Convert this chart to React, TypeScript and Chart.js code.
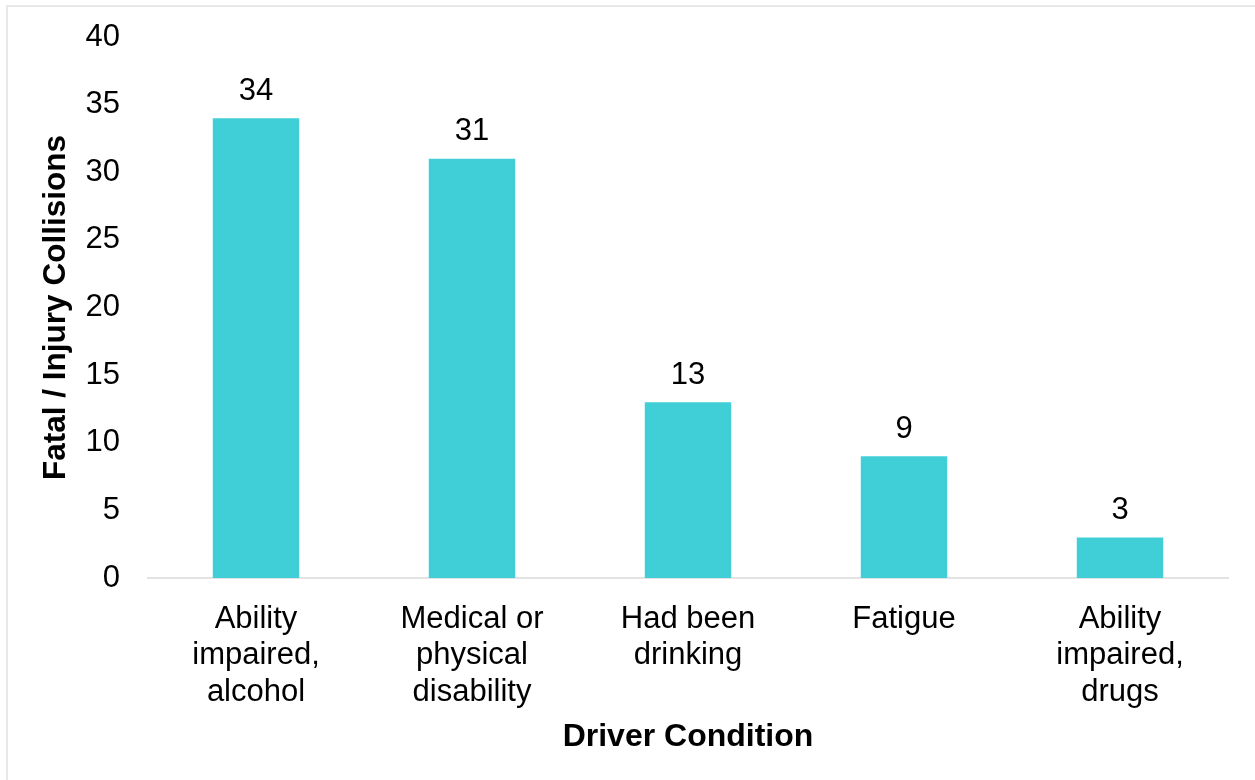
import React, { useEffect, useRef } from "react";
import { Chart, registerables } from "chart.js";

Chart.register(...registerables);

const categories: string[][] = [
  ["Ability", "impaired,", "alcohol"],
  ["Medical or", "physical", "disability"],
  ["Had been", "drinking"],
  ["Fatigue"],
  ["Ability", "impaired,", "drugs"],
];
const values: number[] = [34, 31, 13, 9, 3];
const yTicks = { min: 0, max: 40, step: 5 };
const xTitle = "Driver Condition";
const yTitle = "Fatal / Injury Collisions";

const FONT = "'Liberation Sans', Arial, sans-serif";

const dataLabels = {
  id: "dataLabels",
  afterDatasetsDraw(chart: any) {
    const ctx = chart.ctx;
    const meta = chart.getDatasetMeta(0);
    ctx.save();
    ctx.font = `31px ${FONT}`;
    ctx.fillStyle = "#000";
    ctx.textAlign = "center";
    ctx.textBaseline = "alphabetic";
    meta.data.forEach((bar: any, i: number) => {
      ctx.fillText(String(values[i]), bar.x, bar.y - 18.5);
    });
    ctx.restore();
  },
};

export default function App() {
  const ref = useRef<HTMLCanvasElement | null>(null);
  useEffect(() => {
    if (!ref.current) return;
    const chart = new Chart(ref.current, {
      type: "bar",
      data: {
        labels: categories,
        datasets: [
          {
            data: values,
            backgroundColor: "#40CFD6",
            borderWidth: 0,
            barPercentage: 0.4,
            categoryPercentage: 1.0,
          },
        ],
      },
      options: {
        animation: false,
        responsive: false,
        maintainAspectRatio: false,
        layout: { padding: { left: 0, top: 37, right: 27, bottom: 0 } },
        plugins: {
          legend: { display: false },
          tooltip: { enabled: false },
        },
        scales: {
          x: {
            grid: { display: false, drawTicks: false },
            border: { display: true, color: "#e3e3e3", width: 2 },
            ticks: {
              color: "#000",
              font: { family: FONT, size: 31, lineHeight: 1.18 },
              padding: 23,
              maxRotation: 0,
              autoSkip: false,
            },
            title: {
              display: true,
              text: xTitle,
              color: "#000",
              font: { family: FONT, size: 32, weight: "bold", lineHeight: 1.2 },
              padding: { top: 0, bottom: 24 },
            },
            afterFit(scale: any) {
              scale.height = 202;
              scale.paddingLeft = 0;
              scale.paddingRight = 0;
            },
          },
          y: {
            min: yTicks.min,
            max: yTicks.max,
            grid: { display: false, drawTicks: false },
            border: { display: false },
            ticks: {
              stepSize: yTicks.step,
              color: "#000",
              font: { family: FONT, size: 31 },
              padding: 28,
            },
            title: {
              display: true,
              text: yTitle,
              color: "#000",
              font: { family: FONT, size: 31.5, weight: "bold", lineHeight: 1.2 },
              padding: { top: 37, bottom: 0 },
            },
            afterFit(scale: any) {
              scale.width = 148;
              scale.paddingTop = 0;
              scale.paddingBottom = 0;
            },
          },
        },
      },
      plugins: [dataLabels],
    });
    return () => chart.destroy();
  }, []);

  return (
    <div
      style={{
        position: "fixed",
        left: 0,
        top: 0,
        width: 1255,
        height: 780,
        background: "#fff",
        overflow: "hidden",
      }}
    >
      <div
        style={{
          position: "absolute",
          left: 6,
          top: 5,
          width: 1300,
          height: 800,
          borderLeft: "2px solid #e8e8e8",
          borderTop: "2px solid #e8e8e8",
        }}
      />
      <canvas
        ref={ref}
        width={1255}
        height={780}
        style={{ position: "absolute", left: 0, top: 0, width: 1255, height: 780 }}
      />
    </div>
  );
}
